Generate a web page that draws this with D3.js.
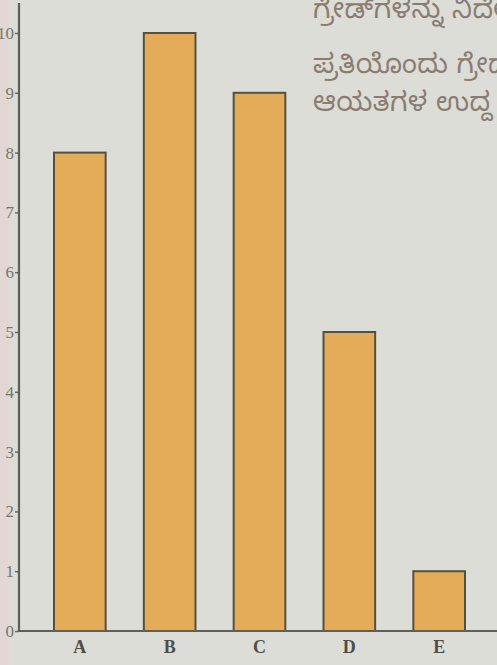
<!DOCTYPE html>
<html>
<head>
<meta charset="utf-8">
<script src="https://cdn.jsdelivr.net/npm/d3@7"></script>
<style>
  html, body { margin: 0; padding: 0; background: #dcddd6; overflow: hidden; }
  svg { display: block; }
</style>
</head>
<body>
<svg id="chart" width="497" height="665"></svg>
<script>
// Grades and the number of students in each grade
const categories = ["A", "B", "C", "D", "E"];
const counts = [8, 10, 9, 5, 1];
const tickValues = [0, 1, 2, 3, 4, 5, 6, 7, 8, 9, 10];
const noteLines = ["ಗ್ರೇಡ್‌ಗಳನ್ನು ನಿರ್ದೇಶಿಸಿ", "ಪ್ರತಿಯೊಂದು ಗ್ರೇಡ್", "ಆಯತಗಳ ಉದ್ದ"];

const W = 497, H = 665;
const svg = d3.select("#chart");

// paper background with a faint pinkish edge on the left
svg.append("rect").attr("width", W).attr("height", H).attr("fill", "#dcddd6");
svg.append("rect").attr("x", 0).attr("y", 0).attr("width", 9).attr("height", H)
  .attr("fill", "#e3d6d3").attr("opacity", 0.8);

const axisX = 19, baseY = 631;

const x = d3.scaleBand().domain(categories).range([54, 465])
  .paddingInner(0.425).paddingOuter(0);
const y = d3.scaleLinear().domain([0, 10]).range([baseY, 33]);

// bars
svg.append("g").selectAll("rect").data(categories).join("rect")
  .attr("x", d => x(d))
  .attr("y", (d, i) => y(counts[i]))
  .attr("width", x.bandwidth())
  .attr("height", (d, i) => baseY - y(counts[i]))
  .attr("fill", "#e4ac58")
  .attr("stroke", "#58503f")
  .attr("stroke-width", 2);

// vertical axis, short ticks on the outside
const yAxis = d3.axisLeft(y).tickValues(tickValues).tickSize(4).tickPadding(1)
  .tickFormat(d3.format("d"));
const yg = svg.append("g").attr("transform", `translate(${axisX},0)`).call(yAxis);
yg.select(".domain").remove();
yg.selectAll(".tick line").attr("stroke", "#6a6a66").attr("stroke-width", 1.5);
yg.selectAll(".tick text")
  .attr("fill", "#76766f")
  .style("font-family", "'Liberation Serif', 'DejaVu Serif', serif")
  .style("font-size", "17px");
svg.append("line").attr("x1", axisX).attr("x2", axisX).attr("y1", 3).attr("y2", baseY + 1)
  .attr("stroke", "#5e5e5a").attr("stroke-width", 2.2);

// horizontal baseline with grade labels
svg.append("line").attr("x1", axisX).attr("x2", W).attr("y1", baseY).attr("y2", baseY)
  .attr("stroke", "#5e5e5a").attr("stroke-width", 2.2);
const xg = svg.append("g").attr("transform", `translate(0,${baseY})`)
  .call(d3.axisBottom(x).tickSize(0).tickPadding(9));
xg.select(".domain").remove();
xg.selectAll(".tick text")
  .attr("fill", "#4e4e4a")
  .style("font-family", "'Liberation Serif', 'DejaVu Serif', serif")
  .style("font-weight", "bold")
  .style("font-size", "18px");

// text beside the chart
const noteY = [18, 73, 111];
svg.append("g").selectAll("text").data(noteLines).join("text")
  .attr("x", 313)
  .attr("y", (d, i) => noteY[i])
  .attr("fill", "#8a7c73")
  .style("font-family", "'Noto Sans Kannada', 'Noto Sans', sans-serif")
  .style("font-size", "27px")
  .style("letter-spacing", "0.5px")
  .text(d => d);
</script>
</body>
</html>
